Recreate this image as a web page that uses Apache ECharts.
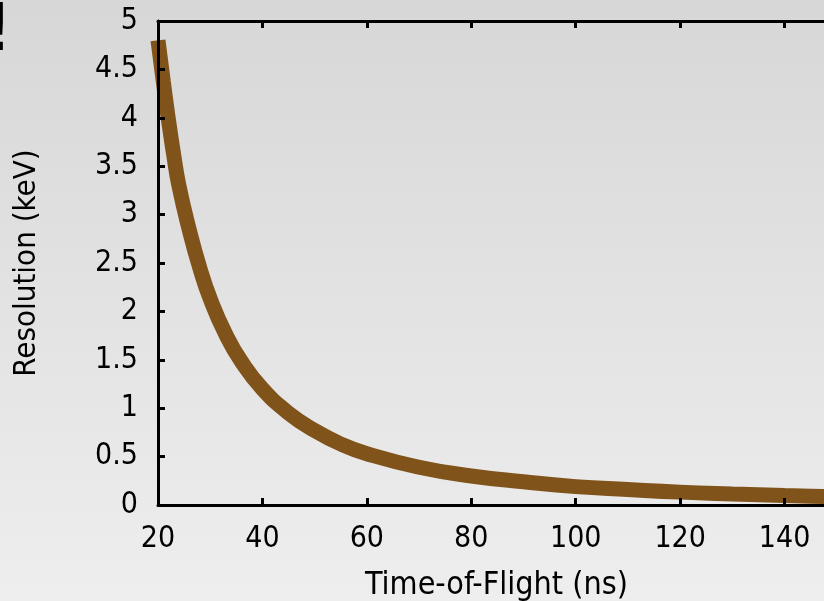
<!DOCTYPE html>
<html>
<head>
<meta charset="utf-8">
<script src="https://cdn.jsdelivr.net/npm/echarts@6/dist/echarts.min.js"></script>
<style>
  html, body { margin: 0; padding: 0; overflow: hidden; }
  #tof { width: 960px; height: 601px; }
</style>
</head>
<body>
<div id="tof"></div>
<script>
// values
const tofNs = [20, 21, 22, 23, 24, 26, 28, 30, 33, 36, 40, 45, 50, 55, 60, 70, 80, 90, 100, 110, 120, 130, 140, 150, 160];
const resolutionKeV = [4.80, 4.38, 3.98, 3.62, 3.30, 2.84, 2.45, 2.13, 1.76, 1.48, 1.20, 0.95, 0.77, 0.63, 0.53, 0.39, 0.30, 0.24, 0.19, 0.16, 0.133, 0.114, 0.098, 0.085, 0.075];
const xTicks = [20, 40, 60, 80, 100, 120, 140, 160];
const yTicks = [0, 0.5, 1, 1.5, 2, 2.5, 3, 3.5, 4, 4.5, 5];

const fontFamily = "'DejaVu Sans Condensed', 'DejaVu Sans', sans-serif";

const chartDom = document.getElementById('tof');
const myChart = echarts.init(chartDom, null, { width: 960, height: 601 });

const axisLine = { lineStyle: { color: '#000', width: 3 } };
const axisTick = { inside: true, length: 7, lineStyle: { color: '#000', width: 3 } };

const option = {
    backgroundColor: {
        type: 'linear', x: 0, y: 0, x2: 0, y2: 1,
        colorStops: [
            { offset: 0, color: '#d7d7d7' },
            { offset: 1, color: '#eeeeee' }
        ]
    },
    animation: false,
    // plot box runs past the right edge of the 824px window, as in the reference
    grid: {
        left: 158,
        top: 21,
        width: 731,
        bottom: 96,
        containLabel: false,
        outerBoundsMode: 'none'
    },
    xAxis: [
        {
            type: 'value',
            min: xTicks[0],
            max: xTicks[xTicks.length - 1],
            interval: 20,
            z: 5,
            axisLine: axisLine,
            axisTick: axisTick,
            splitLine: { show: false },
            axisLabel: {
                color: '#000',
                fontSize: 30,
                fontFamily: fontFamily,
                margin: 19
            }
        },
        {
            type: 'value',
            position: 'top',
            min: xTicks[0],
            max: xTicks[xTicks.length - 1],
            interval: 20,
            z: 5,
            axisLine: axisLine,
            axisTick: axisTick,
            splitLine: { show: false },
            axisLabel: { show: false }
        }
    ],
    yAxis: {
        type: 'value',
        min: yTicks[0],
        max: yTicks[yTicks.length - 1],
        interval: 0.5,
        z: 5,
        name: 'Resolution (keV)',
        nameLocation: 'middle',
        nameGap: 116,
        nameTextStyle: {
            color: '#000',
            fontSize: 31,
            fontFamily: fontFamily
        },
        axisLine: axisLine,
        axisTick: axisTick,
        splitLine: { show: false },
        axisLabel: {
            color: '#000',
            fontSize: 30,
            fontFamily: fontFamily,
            margin: 20
        }
    },
    graphic: [
        {
            type: 'text',
            left: 365,
            top: 570,
            style: {
                text: 'Time-of-Flight (ns)',
                fill: '#000',
                font: '32px ' + fontFamily
            }
        },
        {
            type: 'text',
            left: -12,
            top: 0,
            style: {
                text: '!',
                fill: '#000',
                font: '66px ' + fontFamily
            }
        }
    ],
    series: [
        {
            type: 'line',
            data: tofNs.map((t, i) => [t, resolutionKeV[i]]),
            smooth: true,
            showSymbol: false,
            clip: false,
            z: 2,
            lineStyle: {
                color: '#80531b',
                width: 15,
                cap: 'butt'
            }
        }
    ]
};

myChart.setOption(option);
</script>
</body>
</html>
